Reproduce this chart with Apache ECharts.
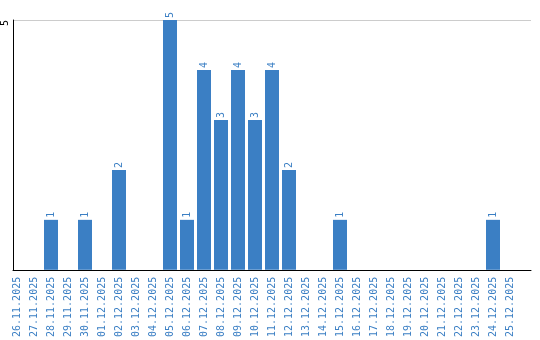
<!DOCTYPE html>
<html><head><meta charset="utf-8">
<script src="https://cdn.jsdelivr.net/npm/echarts@6/dist/echarts.min.js"></script>
<style>html,body{margin:0;padding:0;background:#fff}#c{width:540px;height:340px}</style>
</head><body><div id="c"></div>
<script>
const categories = ["26.11.2025","27.11.2025","28.11.2025","29.11.2025","30.11.2025","01.12.2025","02.12.2025","03.12.2025","04.12.2025","05.12.2025","06.12.2025","07.12.2025","08.12.2025","09.12.2025","10.12.2025","11.12.2025","12.12.2025","13.12.2025","14.12.2025","15.12.2025","16.12.2025","17.12.2025","18.12.2025","19.12.2025","20.12.2025","21.12.2025","22.12.2025","23.12.2025","24.12.2025","25.12.2025"];
const values = [0,0,1,0,1,0,2,0,0,5,1,4,3,4,3,4,2,0,0,1,0,0,0,0,0,0,0,0,1,0];
const yMax = 5;
const yTicks = [5];

const blue = '#3b7fc4';
const font = 'DejaVu Sans Mono';
const chart = echarts.init(document.getElementById('c'), null, {renderer:'canvas'});
chart.setOption({
  animation:false,
  grid:[
    {left:10, right:9, top:20, bottom:70},
    {left:8.5, width:510, top:20, bottom:70}
  ],
  xAxis:[
    {gridIndex:0, type:'value', min:0, max:1, axisLine:{show:true, onZero:false, lineStyle:{color:'#000', width:1}}, axisTick:{show:false}, axisLabel:{show:false}, splitLine:{show:false}},
    {gridIndex:1, type:'category', data:categories, boundaryGap:true,
     axisLine:{show:false}, axisTick:{show:false},
     axisLabel:{interval:0, rotate:90, margin:7, color:blue, fontFamily:font, fontSize:10}}
  ],
  yAxis:[
    {gridIndex:0, type:'value', min:0, max:yMax, interval:yMax,
     axisLine:{show:true, lineStyle:{color:'#000', width:1}}, axisTick:{show:false},
     axisLabel:{showMinLabel:false, rotate:90, margin:3, align:'right', verticalAlign:'bottom', color:'#000', fontFamily:font, fontSize:10,
       formatter:v=>yTicks.includes(v)?String(v):''},
     splitLine:{show:true, lineStyle:{color:'#cccccc', width:1}}},
    {gridIndex:1, type:'value', min:0, max:yMax, show:false}
  ],
  series:[{
    type:'bar', xAxisIndex:1, yAxisIndex:1,
    data: values.map(v=>v===0?null:v),
    barWidth:14,
    itemStyle:{color:blue},
    label:{show:true, position:'top', rotate:90, align:'left', verticalAlign:'middle', distance:2,
      color:blue, fontFamily:font, fontSize:10}
  }]
});
</script></body></html>
